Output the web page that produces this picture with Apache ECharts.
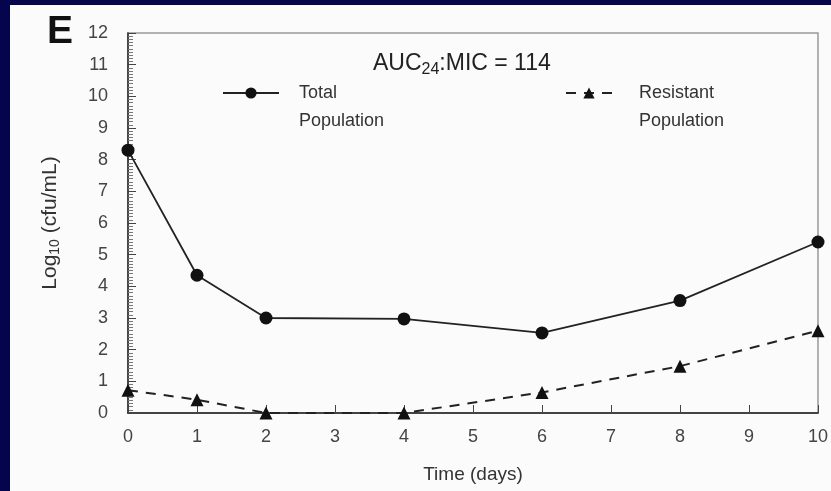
<!DOCTYPE html>
<html>
<head>
<meta charset="utf-8">
<script src="https://cdn.jsdelivr.net/npm/echarts@6/dist/echarts.min.js"></script>
<style>
  html, body { margin: 0; padding: 0; background: #05054d; width: 831px; height: 491px; overflow: hidden; }
  #chart { position: absolute; left: 10px; top: 5px; width: 821px; height: 486px; background: #fbfbfb; }
</style>
</head>
<body>
<div id="chart"></div>
<script>
// days sampled
var days = [0, 1, 2, 4, 6, 8, 10];
// log10 cfu/mL
var totalPop = [8.3, 4.35, 3.0, 2.97, 2.53, 3.55, 5.4];
var resistantPop = [0.72, 0.42, 0.0, 0.0, 0.65, 1.48, 2.6];

function pairs(xs, ys) {
    return xs.map(function (x, i) { return [x, ys[i]]; });
}

window.onload = function () {
    var myChart = echarts.init(document.getElementById('chart'));
    var font = 'Liberation Sans, Arial, sans-serif';

    var option = {
        animation: false,
        textStyle: { fontFamily: font },
        title: [
            {
                text: '{a|AUC}{b|24}{a|:MIC = 114}',
                left: 358, top: 39,
                textStyle: {
                    rich: {
                        a: { fontSize: 23, color: '#222', fontWeight: 'normal', fontFamily: font },
                        b: { fontSize: 16, color: '#222', fontWeight: 'normal', fontFamily: font, padding: [13, 0, 0, 0] }
                    }
                }
            },
            {
                text: 'E',
                left: 32, top: 3,
                textStyle: { fontSize: 39, fontWeight: 'bold', color: '#111', fontFamily: font }
            }
        ],
        legend: [
            {
                data: ['Total Population'],
                left: 212, top: 46, padding: 0,
                itemWidth: 56, itemHeight: 14,
                formatter: function () { return '\u00a0\nTotal\nPopulation'; },
                textStyle: { fontSize: 18, color: '#333', lineHeight: 28, padding: [0, 0, 0, 15] }
            },
            {
                data: ['Resistant Population'],
                left: 555, top: 46, padding: 0,
                itemWidth: 46, itemHeight: 14,
                formatter: function () { return '\u00a0\nResistant\nPopulation'; },
                textStyle: { fontSize: 18, color: '#333', lineHeight: 28, padding: [0, 0, 0, 22] }
            }
        ],
        grid: { left: 118, right: 13, top: 28, bottom: 78, show: true, borderColor: '#999', borderWidth: 1.5 },
        xAxis: {
            type: 'value', min: 0, max: 10, interval: 1,
            name: 'Time (days)', nameLocation: 'middle', nameGap: 52,
            nameTextStyle: { fontSize: 19, color: '#333' },
            axisLine: { lineStyle: { color: '#222', width: 1.5 } },
            axisTick: { inside: true, length: 8, lineStyle: { color: '#444' } },
            axisLabel: { fontSize: 18, color: '#444', margin: 15 },
            splitLine: { show: false }
        },
        yAxis: {
            type: 'value', min: 0, max: 12, interval: 1,
            name: '{a|Log}{b|10}{a| (cfu/mL)}', nameLocation: 'middle', nameGap: 66, nameRotate: 90,
            nameTextStyle: {
                rich: {
                    a: { fontSize: 21, color: '#333', fontFamily: font },
                    b: { fontSize: 14, color: '#333', fontFamily: font, padding: [10, 0, 0, 0] }
                }
            },
            axisLine: { show: true, lineStyle: { color: '#222', width: 1.5 } },
            axisTick: { inside: true, length: 8, lineStyle: { color: '#444' } },
            minorTick: { show: true, splitNumber: 10, length: 5, lineStyle: { color: '#777' } },
            axisLabel: { fontSize: 18, color: '#444', margin: 20 },
            splitLine: { show: false }
        },
        series: [
            {
                name: 'Total Population',
                type: 'line',
                data: pairs(days, totalPop),
                symbol: 'circle', symbolSize: 13,
                lineStyle: { color: '#222', width: 1.8 },
                itemStyle: { color: '#111' }
            },
            {
                name: 'Resistant Population',
                type: 'line',
                data: pairs(days, resistantPop),
                symbol: 'triangle', symbolSize: 13,
                lineStyle: { color: '#222', width: 2, type: [10, 8] },
                itemStyle: { color: '#111' }
            }
        ]
    };

    myChart.setOption(option);
};
</script>
</body>
</html>
